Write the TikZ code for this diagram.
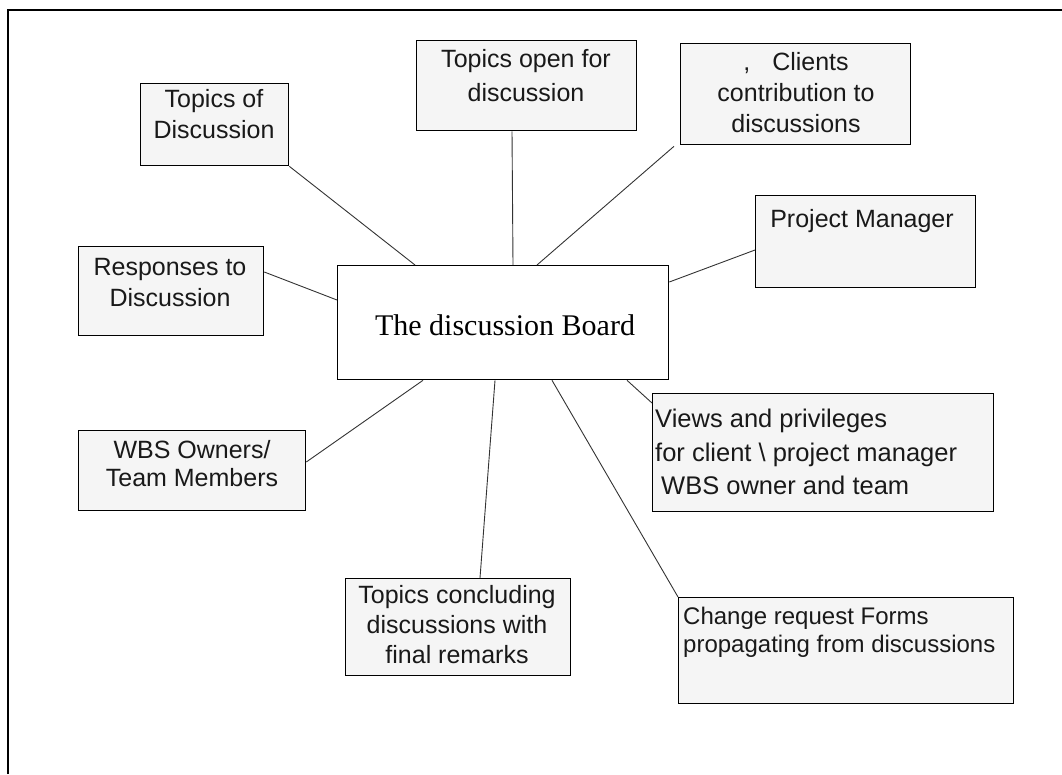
\documentclass[tikz,border=0pt]{standalone}
\usepackage{fontspec}
\setmainfont{Liberation Serif}
\newfontfamily\arialf{Liberation Sans}
\usetikzlibrary{calc}
\tikzset{
  box/.style={draw=black, line width=1.3pt, fill=black!4, anchor=north west, inner sep=0pt},
  lbl/.style={font=\arialf\fontsize{25}{31}\selectfont, align=center, inner sep=0pt, anchor=north, text=black!90},
  link/.style={draw=black!80, line width=0.9pt},
  frame/.style={draw=black, line width=1.6pt}
}
\begin{document}
\begin{tikzpicture}[x=1pt,y=-1pt]
\useasboundingbox (0,0) rectangle (1062,774);
\draw[frame] (8,774) -- (8,10) -- (1062,10);

% boxes
\node[box, minimum width=148pt, minimum height=82pt] (tod) at (140,83) {};
\node[box, minimum width=220pt, minimum height=90pt] (topen) at (416,40) {};
\node[box, minimum width=230pt, minimum height=101pt] (cli) at (680,43) {};
\node[box, minimum width=220pt, minimum height=92pt] (pm) at (755,195) {};
\node[box, minimum width=185pt, minimum height=89pt] (resp) at (78,246) {};
\node[box, fill=white, minimum width=331pt, minimum height=114pt] (board) at (337,265) {};
\node[box, minimum width=341pt, minimum height=118pt] (views) at (652,393) {};
\node[box, minimum width=227pt, minimum height=80pt] (wbs) at (78,430) {};
\node[box, minimum width=225pt, minimum height=97pt] (conc) at (345,578) {};
\node[box, minimum width=335pt, minimum height=106pt] (chg) at (678,597) {};

% texts
\node[lbl] (todt) at (214,89) {Topics of\\Discussion};
\node[lbl, font=\arialf\fontsize{25}{34}\selectfont] (topent) at (526,49) {Topics open for\\discussion};
\node[lbl] (clit) at (796,52) {,\hspace{22pt}Clients\\contribution to\\discussions};
\node[lbl] (pmt) at (862,209) {Project Manager};
\node[lbl] (respt) at (170,258) {Responses to\\Discussion};
\node[font=\fontsize{30}{36}\selectfont, anchor=base, inner sep=0pt] (boardt) at (505,335) {The discussion Board};
\node[lbl, font=\arialf\fontsize{25.5}{33.5}\selectfont, align=left, anchor=north west] (viewst) at (655,409) {Views and privileges\\for client \textbackslash\ project manager\\\hspace{6pt}WBS owner and team};
\node[lbl, font=\arialf\fontsize{25}{28}\selectfont] (wbst) at (192,440) {WBS Owners/\\Team Members};
\node[lbl, font=\arialf\fontsize{25}{30}\selectfont] (conct) at (457,585) {Topics concluding\\discussions with\\final remarks};
\node[lbl, font=\arialf\fontsize{24}{28}\selectfont, align=left, anchor=north west] (chgt) at (683,607) {Change request Forms\\propagating from discussions};

% connectors
\draw[link] (tod.south east) -- ($(board.north west)+(78,0)$);
\draw[link] ($(topen.south west)+(96,0)$) -- ($(board.north west)+(176,0)$);
\draw[link] ($(cli.south west)+(-6,1)$) -- ($(board.north west)+(200,0)$);
\draw[link] ($(board.north east)+(0,17)$) -- ($(pm.north west)+(0,55)$);
\draw[link] ($(resp.north east)+(0,26)$) -- ($(board.north west)+(0,35)$);
\draw[link] ($(board.south west)+(86,0)$) -- ($(wbs.north east)+(0,32)$);
\draw[link] ($(board.south west)+(158,0)$) -- ($(conc.north west)+(135,0)$);
\draw[link] ($(board.south west)+(215,0)$) -- (chg.north west);
\draw[link] ($(board.south west)+(290,0)$) -- ($(views.north west)+(0,10)$);
\end{tikzpicture}
\end{document}
